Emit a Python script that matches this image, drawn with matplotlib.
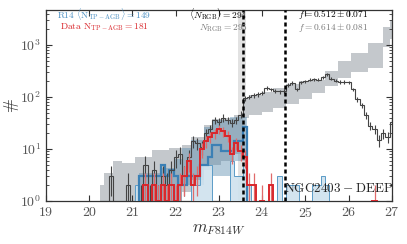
import numpy as np
import matplotlib
matplotlib.use("Agg")
from matplotlib import pyplot as plt

plt.rcParams["font.family"] = "serif"
plt.rcParams["font.serif"] = ["cmr10"]
plt.rcParams["mathtext.fontset"] = "cm"
plt.rcParams["axes.unicode_minus"] = False
plt.rcParams["axes.formatter.use_mathtext"] = True

BW = 0.1  # bin width in mag

# data: all stars, 0.1 mag bins starting at 20.35
all_start = 20.35
all_counts = [0, 3, 0, 0, 0, 2, 0, 0, 1, 5,
              1, 4, 1, 3, 2, 4, 7, 8, 3, 7,
              14, 13, 11, 20, 24, 36, 33, 40, 36, 32,
              36, 46, 95, 100, 108, 112, 120, 150, 140, 132,
              128, 130, 170, 185, 140, 190, 200, 215, 220, 215,
              240, 275, 225, 205, 195, 195, 190, 140, 90, 70,
              45, 28, 24, 15, 20, 17, 33]

# data: TP-AGB stars, bins starting at 21.25
tp_start = 21.25
tp_counts = [2, 0, 2, 1, 2, 1, 2, 1, 2, 3,
             6, 2, 3, 10, 14, 17, 20, 24, 22, 18,
             8, 13, 9, 7, 2, 2, 0, 1, 0, 2,
             0, 0, 0, 0, 0, 0, 0, 0, 0, 0,
             0, 0, 0, 0, 0, 0, 0, 0, 0, 0,
             0, 0, 0, 1]

# R14 model TP-AGB (mean), bins starting at 21.15
r14_start = 21.15
r14_counts = [3, 3, 3, 3, 3, 5, 3, 4, 3, 2,
              2, 3, 3, 3, 5, 5, 7, 12, 12, 9,
              9, 9, 14, 14, 26]

# R14 model realisation (light blue), bins starting at 21.05
lb_start = 21.05
lb_counts = [2, 0, 0, 0, 0, 0, 0, 0, 0, 0,
             0, 0, 0, 2, 2, 5, 5, 5, 0, 0,
             0, 0, 6, 3, 3, 5, 2, 0, 0, 0,
             0, 0, 0, 3, 0, 2, 2, 2, 0, 0,
             0, 2, 2, 3, 2]

# R14 TP-AGB model band
tpband_edges = [21.15, 21.65, 21.95, 22.15, 22.35, 22.65, 22.85, 23.25, 23.65]
tpband_hi = [3.5, 4.3, 6.3, 10.5, 15, 26, 36, 42]
tpband_lo = [0.5, 0.5, 0.5, 2, 2, 5, 3, 6]

# full model band (RGB + AGB)
band_edges = [20.25, 20.35, 20.55, 20.75, 21.05, 21.45, 21.85, 22.15, 22.35,
              22.65, 22.85, 23.05, 23.35, 23.55, 23.7, 24.0, 24.25, 24.55,
              24.85, 25.15, 25.45, 25.75, 26.05, 26.45, 26.8, 26.95, 27.05]
band_hi = [2, 3.5, 6, 5.5, 7, 9.5, 10.5, 12, 17, 29, 38, 40, 45,
           95, 110, 126, 148, 180, 200, 215, 320, 500, 710, 1100, 2200, 3000]
band_lo = [0.5, 0.5, 0.5, 0.5, 0.5, 0.5, 1, 1.5, 2.5, 4, 5, 6, 8,
           40, 45, 51, 62, 75, 90, 120, 160, 230, 300, 360, 900, 1300]

trgb = 23.55
trgb_err = (23.43, 23.62)
cut = 24.52

blue = "#3b80b5"
red = "#d9262b"
dark = "#444444"


def edges_for(start, n):
    return start + BW * np.arange(n + 1)


def errbars(ax, start, counts, color, lw):
    c = np.array(counts, dtype=float)
    x = start + BW * (np.arange(len(c)) + 0.5)
    m = c > 0
    lo = np.clip(c - np.sqrt(c), 0.5, None)
    hi = c + np.sqrt(c)
    ax.vlines(x[m], lo[m], hi[m], color=color, lw=lw, zorder=6)


fig = plt.figure(figsize=(4.07, 2.44), dpi=100)
ax = fig.add_axes([0.113, 0.176, 0.850, 0.783])

ax.axvspan(*trgb_err, color="#e2e2e2", lw=0, zorder=0)

ax.stairs(band_hi, band_edges, baseline=band_lo, fill=True,
          color="#c4c8cc", lw=0, zorder=1)
ax.stairs(tpband_hi, tpband_edges, baseline=tpband_lo, fill=True,
          color="#5f8fb0", alpha=0.45, lw=0, zorder=2)

lb = np.clip(lb_counts, 0.5, None)
ax.stairs(lb, edges_for(lb_start, len(lb)), baseline=0.5, fill=True,
          color="#cfe2ee", alpha=0.9, zorder=3)
ax.stairs(lb, edges_for(lb_start, len(lb)), baseline=0.5,
          color="#5b9bc7", lw=0.7, zorder=3)

r14 = np.clip(r14_counts, 0.5, None)
ax.stairs(r14, edges_for(r14_start, len(r14)), baseline=0.5,
          color=blue, lw=1.6, zorder=4)

al = np.clip(all_counts, 0.5, None)
ax.stairs(al, edges_for(all_start, len(al)), baseline=0.5,
          color=dark, lw=0.8, zorder=5)
errbars(ax, all_start, all_counts, dark, 0.8)

tp = np.clip(tp_counts, 0.5, None)
ax.stairs(tp, edges_for(tp_start, len(tp)), baseline=0.5,
          color=red, lw=1.4, zorder=7)
errbars(ax, tp_start, tp_counts, "#e06a6a", 0.9)

for xv in (trgb, cut):
    ax.axvline(xv, color="k", lw=1.8, ls=(0, (1.6, 1.2)), zorder=8)

ax.set_yscale("log")
ax.set_xlim(19, 27)
ax.set_ylim(1, 4700)
ax.set_xticks(range(19, 28))
ax.set_xticklabels([r"$%d$" % v for v in range(19, 28)])

ax.tick_params(which="both", direction="in", top=True, right=True,
               colors="#333333", labelcolor="#555555", labelsize=10)
ax.tick_params(which="major", length=4, width=0.8)
ax.tick_params(which="minor", length=2, width=0.6)
for s in ax.spines.values():
    s.set_color("#333333")
    s.set_linewidth(0.9)

ax.set_xlabel(r"$m_{F814W}$", fontsize=12, color="#333333", labelpad=1)
ax.set_ylabel(r"$\#$", fontsize=12, color="#333333")
ax.yaxis.set_label_coords(-0.072, 0.5)

tr = ax.transAxes
fs = 6.8
ax.text(0.168, 0.978, r"$\mathrm{R14}\ \langle \mathrm{N_{TP-AGB}}\rangle = 149$",
        transform=tr, ha="center", va="center", fontsize=fs, color="#4a8fc2")
ax.text(0.168, 0.912, r"$\mathrm{Data\ N_{TP-AGB}} = 181$",
        transform=tr, ha="center", va="center", fontsize=fs, color=red)
ax.text(0.583, 0.978, r"$\langle N_{\mathrm{RGB}}\rangle = 294$",
        transform=tr, ha="right", va="center", fontsize=fs, color="k", zorder=9)
ax.text(0.583, 0.910, r"$N_{\mathrm{RGB}} = 295$",
        transform=tr, ha="right", va="center", fontsize=fs, color="#777777", zorder=9)
ax.text(0.83, 0.978, r"$f = 0.512 \pm 0.071$",
        transform=tr, ha="center", va="center", fontsize=fs, color="k")
ax.text(0.83, 0.910, r"$f = 0.614 \pm 0.081$",
        transform=tr, ha="center", va="center", fontsize=fs, color="#777777")
ax.text(0.847, 0.068, r"$\mathrm{NGC2403-DEEP}$",
        transform=tr, ha="center", va="center", fontsize=9.5, color="#222222", zorder=9)

fig.savefig("out.png", dpi=100)
